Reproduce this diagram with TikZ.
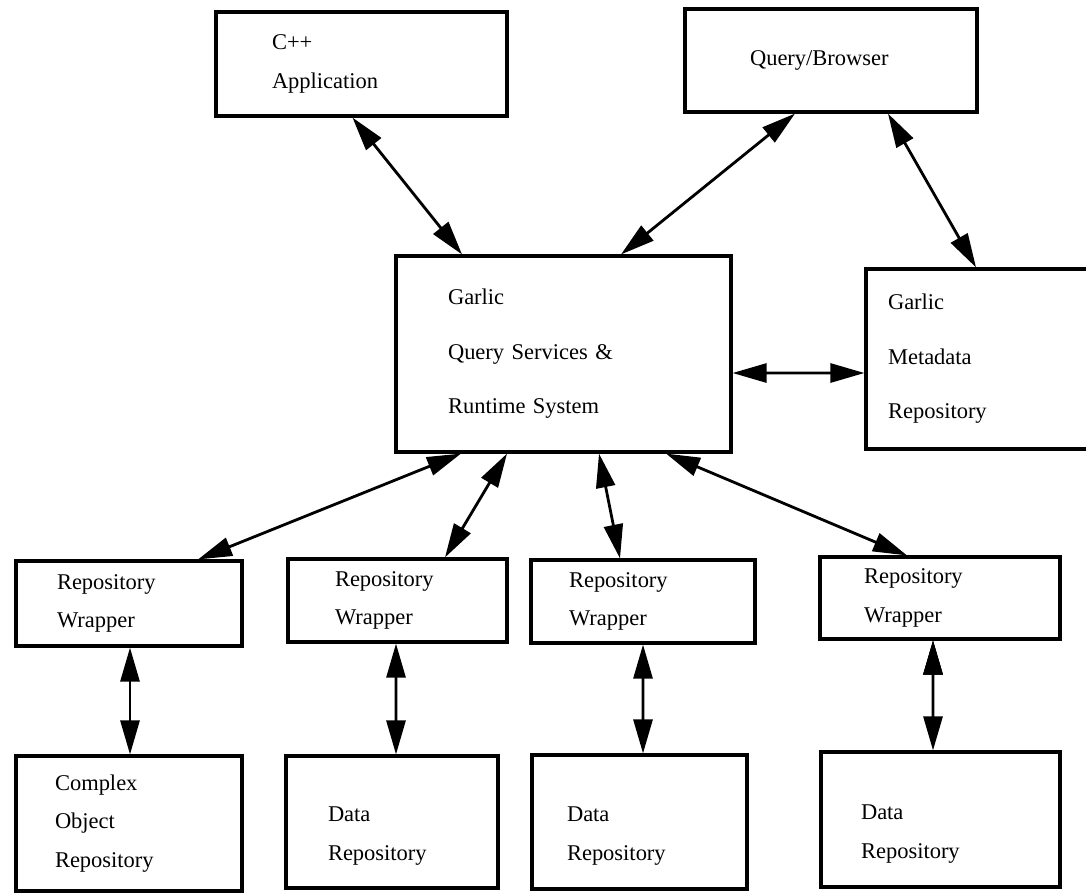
\documentclass[tikz,border=0pt]{standalone}
\usepackage{fontspec}
\setmainfont{Liberation Serif}
\usetikzlibrary{arrows.meta}

\begin{document}
\begin{tikzpicture}[
        blk/.style={draw, line width=1.8pt, align=left, inner sep=0pt, font=\fontsize{12.8}{22}\selectfont},
        big/.style={blk, font=\fontsize{12.8}{31}\selectfont},
        arr/.style={{Triangle[length=0.68cm,width=0.38cm]}-{Triangle[length=0.68cm,width=0.38cm]}, line width=1.6pt}
    ]
                \useasboundingbox (0,0) rectangle (21.72,-17.86);
                \node[blk, minimum width=5.82cm, minimum height=2.08cm, text width=3.58cm] (app) at (7.23,-1.28) {C++\\Application};
                \node[blk, minimum width=5.84cm, minimum height=2.06cm, text width=3.24cm] (qb) at (16.62,-1.21) {Query/Browser};
                \node[big, minimum width=6.7cm, minimum height=3.92cm, text width=4.62cm] (gq) at (11.27,-7.08) {Garlic\\Query Services \&\\Runtime System};
                \node[big, minimum width=4.52cm, minimum height=3.6cm, text width=3.64cm] (md) at (19.58,-7.18) {Garlic\\Metadata\\Repository};
                \node[blk, minimum width=4.52cm, minimum height=1.7cm, text width=2.88cm] (w1) at (2.58,-12.07) {Repository\\Wrapper};
                \node[blk, minimum width=4.38cm, minimum height=1.66cm, text width=2.5cm] (w2) at (7.95,-12.01) {Repository\\Wrapper};
                \node[blk, minimum width=4.48cm, minimum height=1.66cm, text width=2.96cm] (w3) at (12.86,-12.03) {Repository\\Wrapper};
                \node[blk, minimum width=4.8cm, minimum height=1.64cm, text width=3.04cm] (w4) at (18.8,-11.96) {Repository\\Wrapper};
                \node[blk, minimum width=4.52cm, minimum height=2.7cm, text width=2.96cm] (r1) at (2.58,-16.47) {Complex\\Object\\Repository};
                \node[blk, minimum width=4.24cm, minimum height=2.64cm, text width=2.56cm, text depth=0.3cm] (r2) at (7.84,-16.44) {Data\\Repository};
                \node[blk, minimum width=4.3cm, minimum height=2.68cm, text width=2.9cm, text depth=0.3cm] (r3) at (12.79,-16.44) {Data\\Repository};
                \node[blk, minimum width=4.78cm, minimum height=2.7cm, text width=3.18cm, text depth=0.3cm] (r4) at (18.81,-16.39) {Data\\Repository};
                \draw[arr]
                    ([xshift=-0.18cm]app.south) edge ([xshift=-2.03cm]gq.north)
                    ([xshift=-0.72cm]qb.south) edge ([xshift=1.15cm]gq.north)
                    ([xshift=1.14cm]qb.south) edge ([xshift=-0.06cm]md.north)
                    ([yshift=-0.38cm]gq.east) edge ([yshift=-0.28cm]md.west)
                    ([xshift=-2.05cm]gq.south) edge ([xshift=1.38cm]w1.north)
                    ([xshift=-1.13cm]gq.south) edge ([xshift=0.95cm]w2.north)
                    ([xshift=0.71cm]gq.south) edge ([xshift=-0.46cm]w3.north)
                    ([xshift=2.05cm]gq.south) edge ([xshift=-0.66cm]w4.north)
                    ([xshift=0.02cm]w1.south) edge ([xshift=0.02cm]r1.north)
                    ([xshift=-0.03cm]w2.south) edge ([xshift=0.08cm]r2.north)
                    (w3.south) edge ([xshift=0.07cm]r3.north)
                    ([xshift=-0.14cm]w4.south) edge ([xshift=-0.15cm]r4.north)
                    ;
            \end{tikzpicture}
\end{document}
